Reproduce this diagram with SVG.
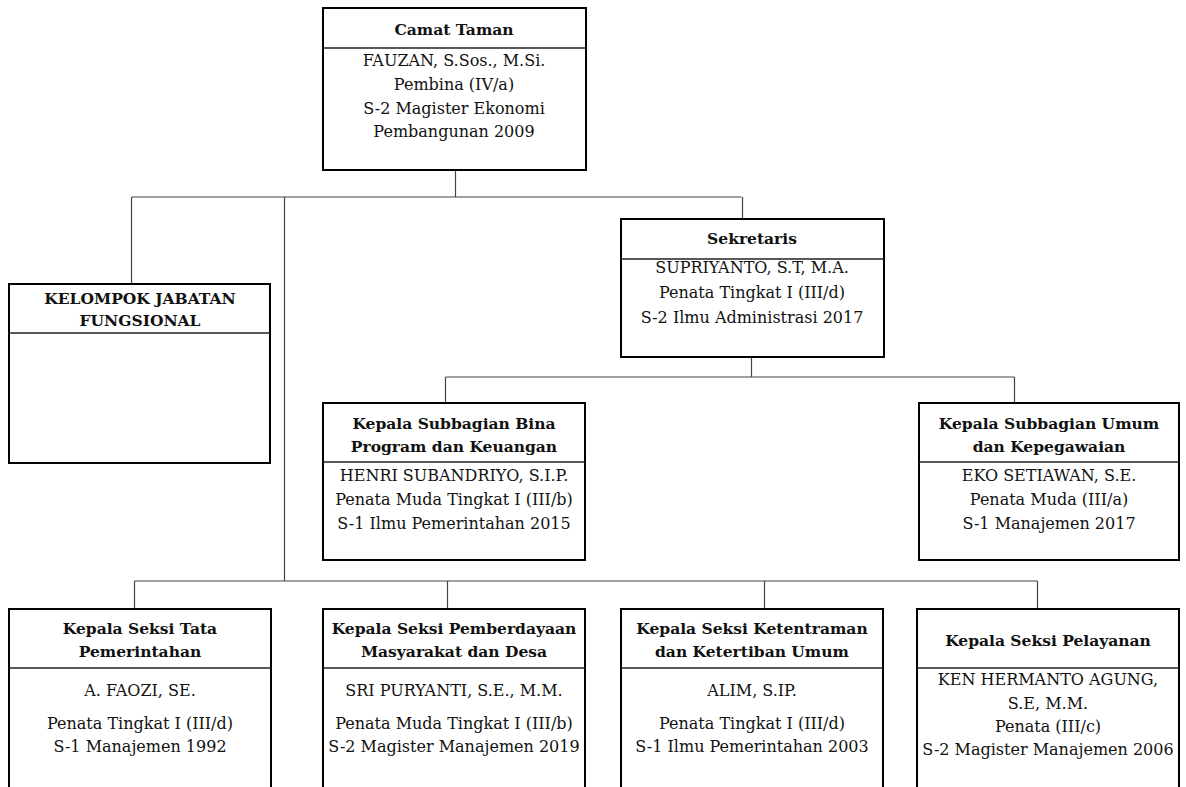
<svg xmlns="http://www.w3.org/2000/svg" width="1186" height="787" viewBox="0 0 1186 787">
<style>
.box{fill:#fff;stroke:#000;stroke-width:2}
.div{stroke:#222;stroke-width:1.3}
.con{fill:none;stroke:#444;stroke-width:1.2}
text{font-family:"DejaVu Serif","Liberation Serif",serif;font-size:16px;fill:#111;text-anchor:middle}
.h{font-weight:bold;font-size:15.5px}
</style>
<rect width="1186" height="787" fill="#fff"/>
<g id="connectors">
<path class="con" d="M455.5 170V197M131.5 197H741.5M131.5 197V284M742.5 197V219M284.5 197V581M751.5 357V377M445.5 377H1014.5M445.5 377V403M1014.5 377V403M134.5 581H1037.5M134.5 581V609M447.5 581V608M764.5 581V608M1037.5 581V608"/>
</g>
<g id="camat">
<rect class="box" x="323" y="8" width="263" height="162"/>
<line class="div" x1="323" y1="48" x2="586" y2="48"/>
<text class="h" x="454" y="35">Camat Taman</text>
<text x="454" y="66">FAUZAN, S.Sos., M.Si.</text>
<text x="454" y="90">Pembina (IV/a)</text>
<text x="454" y="114">S-2 Magister Ekonomi</text>
<text x="454" y="137">Pembangunan 2009</text>
</g>
<g id="kelompok">
<rect class="box" x="9" y="284" width="261" height="179"/>
<line class="div" x1="9" y1="333" x2="270" y2="333"/>
<text class="h" x="140" y="304">KELOMPOK JABATAN</text>
<text class="h" x="140" y="326">FUNGSIONAL</text>
</g>
<g id="sekretaris">
<rect class="box" x="621" y="219" width="263" height="138"/>
<line class="div" x1="621" y1="259" x2="884" y2="259"/>
<text class="h" x="752" y="244">Sekretaris</text>
<text x="752" y="273">SUPRIYANTO, S.T, M.A.</text>
<text x="752" y="298">Penata Tingkat I (III/d)</text>
<text x="752" y="323">S-2 Ilmu Administrasi 2017</text>
</g>
<g id="subbag-bina">
<rect class="box" x="323" y="403" width="262" height="157"/>
<line class="div" x1="323" y1="462" x2="585" y2="462"/>
<text class="h" x="454" y="429">Kepala Subbagian Bina</text>
<text class="h" x="454" y="452">Program dan Keuangan</text>
<text x="454" y="481">HENRI SUBANDRIYO, S.I.P.</text>
<text x="454" y="505">Penata Muda Tingkat I (III/b)</text>
<text x="454" y="529">S-1 Ilmu Pemerintahan 2015</text>
</g>
<g id="subbag-umum">
<rect class="box" x="919" y="403" width="260" height="157"/>
<line class="div" x1="919" y1="462" x2="1179" y2="462"/>
<text class="h" x="1049" y="429">Kepala Subbagian Umum</text>
<text class="h" x="1049" y="452">dan Kepegawaian</text>
<text x="1049" y="481">EKO SETIAWAN, S.E.</text>
<text x="1049" y="505">Penata Muda (III/a)</text>
<text x="1049" y="529">S-1 Manajemen 2017</text>
</g>
<g id="seksi-tata">
<rect class="box" x="9" y="609" width="262" height="200"/>
<line class="div" x1="9" y1="668" x2="271" y2="668"/>
<text class="h" x="140" y="634">Kepala Seksi Tata</text>
<text class="h" x="140" y="657">Pemerintahan</text>
<text x="140" y="696">A. FAOZI, SE.</text>
<text x="140" y="729">Penata Tingkat I (III/d)</text>
<text x="140" y="752">S-1 Manajemen 1992</text>
</g>
<g id="seksi-pemberdayaan">
<rect class="box" x="323" y="609" width="262" height="200"/>
<line class="div" x1="323" y1="668" x2="585" y2="668"/>
<text class="h" x="454" y="634">Kepala Seksi Pemberdayaan</text>
<text class="h" x="454" y="657">Masyarakat dan Desa</text>
<text x="454" y="696">SRI PURYANTI, S.E., M.M.</text>
<text x="454" y="729">Penata Muda Tingkat I (III/b)</text>
<text x="454" y="752">S-2 Magister Manajemen 2019</text>
</g>
<g id="seksi-ketentraman">
<rect class="box" x="621" y="609" width="262" height="200"/>
<line class="div" x1="621" y1="668" x2="883" y2="668"/>
<text class="h" x="752" y="634">Kepala Seksi Ketentraman</text>
<text class="h" x="752" y="657">dan Ketertiban Umum</text>
<text x="752" y="696">ALIM, S.IP.</text>
<text x="752" y="729">Penata Tingkat I (III/d)</text>
<text x="752" y="752">S-1 Ilmu Pemerintahan 2003</text>
</g>
<g id="seksi-pelayanan">
<rect class="box" x="917" y="609" width="262" height="200"/>
<line class="div" x1="917" y1="668" x2="1179" y2="668"/>
<text class="h" x="1048" y="646">Kepala Seksi Pelayanan</text>
<text x="1048" y="685">KEN HERMANTO AGUNG,</text>
<text x="1048" y="709">S.E, M.M.</text>
<text x="1048" y="732">Penata (III/c)</text>
<text x="1048" y="755">S-2 Magister Manajemen 2006</text>
</g>
</svg>
